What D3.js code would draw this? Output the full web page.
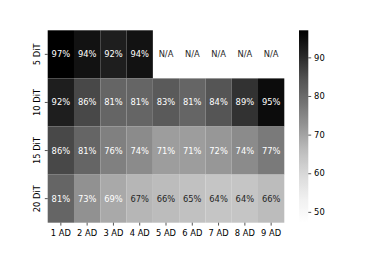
<!DOCTYPE html>
<html lang="en">
<head>
    <meta charset="UTF-8">
    <title>DiT / AD heatmap</title>
    <script src="https://cdn.jsdelivr.net/npm/d3@7"></script>
    <style>
        body { margin: 0; background: #fff; }
        text { font-family: "DejaVu Sans", sans-serif; }
    </style>
</head>
<body>
<script>
    // data (percent); null = N/A
    let rowLabels = ["5 DiT", "10 DiT", "15 DiT", "20 DiT"];
    let colLabels = ["1 AD", "2 AD", "3 AD", "4 AD", "5 AD", "6 AD", "7 AD", "8 AD", "9 AD"];
    let dit5  = [97, 94, 92, 94, null, null, null, null, null];
    let dit10 = [92, 86, 81, 81, 83, 81, 84, 89, 95];
    let dit15 = [86, 81, 76, 74, 71, 71, 72, 74, 77];
    let dit20 = [81, 73, 69, 67, 66, 65, 64, 64, 66];
    let colorbarTicks = [50, 60, 70, 80, 90];
    let colorRange = [47.2, 97.0];

    let matrix = [dit5, dit10, dit15, dit20];

    let W = 382, H = 255;
    let svg = d3.select('body').append('svg')
        .attr('width', W).attr('height', H);

    // plot area
    let mLeft = 47.7, mRight = 284.3, mTop = 30.3, mBottom = 222.7;
    let fs = 8.33, tickLen = 2.9, pad = 2.9;

    let x = d3.scaleBand().domain(colLabels).range([mLeft, mRight]);
    let y = d3.scaleBand().domain(rowLabels).range([mTop, mBottom]);

    // matplotlib "Greys"
    let greys = ['#ffffff', '#f0f0f0', '#d9d9d9', '#bdbdbd', '#969696',
                 '#737373', '#525252', '#252525', '#000000'];
    let cmapT = d3.scaleLinear()
        .domain(d3.range(greys.length).map(i => i / (greys.length - 1)))
        .range(greys)
        .interpolate(d3.interpolateRgb)
        .clamp(true);
    let norm = d3.scaleLinear().domain(colorRange).range([0, 1]).clamp(true);
    let color = v => cmapT(norm(v));

    function lum(c) {
        let rgb = d3.rgb(c);
        let f = ch => { ch /= 255; return ch <= 0.03928 ? ch / 12.92 : Math.pow((ch + 0.055) / 1.055, 2.4); };
        return 0.2126 * f(rgb.r) + 0.7152 * f(rgb.g) + 0.0722 * f(rgb.b);
    }

    let cells = [];
    matrix.forEach((row, i) => row.forEach((v, j) => {
        cells.push({row: rowLabels[i], col: colLabels[j], value: v});
    }));

    svg.append('g').selectAll('rect').data(cells.filter(d => d.value !== null))
        .enter().append('rect')
        .attr('x', d => x(d.col))
        .attr('y', d => y(d.row))
        .attr('width', x.bandwidth())
        .attr('height', y.bandwidth())
        .attr('fill', d => color(d.value));

    svg.append('g').selectAll('text').data(cells)
        .enter().append('text')
        .attr('x', d => x(d.col) + x.bandwidth() / 2)
        .attr('y', d => y(d.row) + y.bandwidth() / 2 + 3.0)
        .attr('text-anchor', 'middle')
        .attr('font-size', fs + 'px')
        .attr('fill', d => (d.value === null || lum(color(d.value)) > 0.408) ? '#262626' : '#ffffff')
        .text(d => d.value === null ? 'N/A' : d.value + '%');

    // axes
    let xAxis = svg.append('g')
        .attr('transform', 'translate(0,' + mBottom + ')')
        .call(d3.axisBottom(x).tickSize(tickLen).tickPadding(pad));
    let yAxis = svg.append('g')
        .attr('transform', 'translate(' + mLeft + ',0)')
        .call(d3.axisLeft(y).tickSize(tickLen).tickPadding(pad));

    [xAxis, yAxis].forEach(g => {
        g.select('.domain').remove();
        g.selectAll('line').attr('stroke', '#000').attr('stroke-width', 0.67);
        g.selectAll('text').attr('font-size', fs + 'px').attr('fill', '#000')
            .style('font-family', '"DejaVu Sans", sans-serif');
    });
    xAxis.selectAll('text').attr('dy', 0).attr('y', 13.0);
    yAxis.selectAll('text')
        .attr('text-anchor', 'middle')
        .attr('x', 0).attr('dy', 0)
        .attr('y', -8.0)
        .attr('transform', 'rotate(-90)');

    // colorbar
    let cbLeft = 299, cbWidth = 9.3;
    let defs = svg.append('defs');
    let grad = defs.append('linearGradient').attr('id', 'cb')
        .attr('x1', 0).attr('y1', 1).attr('x2', 0).attr('y2', 0);
    d3.range(0, 1.0001, 0.02).forEach(t => {
        grad.append('stop').attr('offset', t).attr('stop-color', cmapT(t));
    });
    svg.append('rect')
        .attr('x', cbLeft).attr('y', mTop)
        .attr('width', cbWidth).attr('height', mBottom - mTop)
        .attr('fill', 'url(#cb)');

    let cbScale = d3.scaleLinear().domain(colorRange).range([mBottom, mTop]);
    let cbAxis = svg.append('g')
        .attr('transform', 'translate(' + (cbLeft + cbWidth) + ',0)')
        .call(d3.axisRight(cbScale).tickValues(colorbarTicks).tickSize(tickLen).tickPadding(pad));
    cbAxis.select('.domain').remove();
    cbAxis.selectAll('line').attr('stroke', '#000').attr('stroke-width', 0.67);
    cbAxis.selectAll('text').attr('font-size', fs + 'px').attr('fill', '#000')
        .style('font-family', '"DejaVu Sans", sans-serif');
</script>
</body>
</html>
